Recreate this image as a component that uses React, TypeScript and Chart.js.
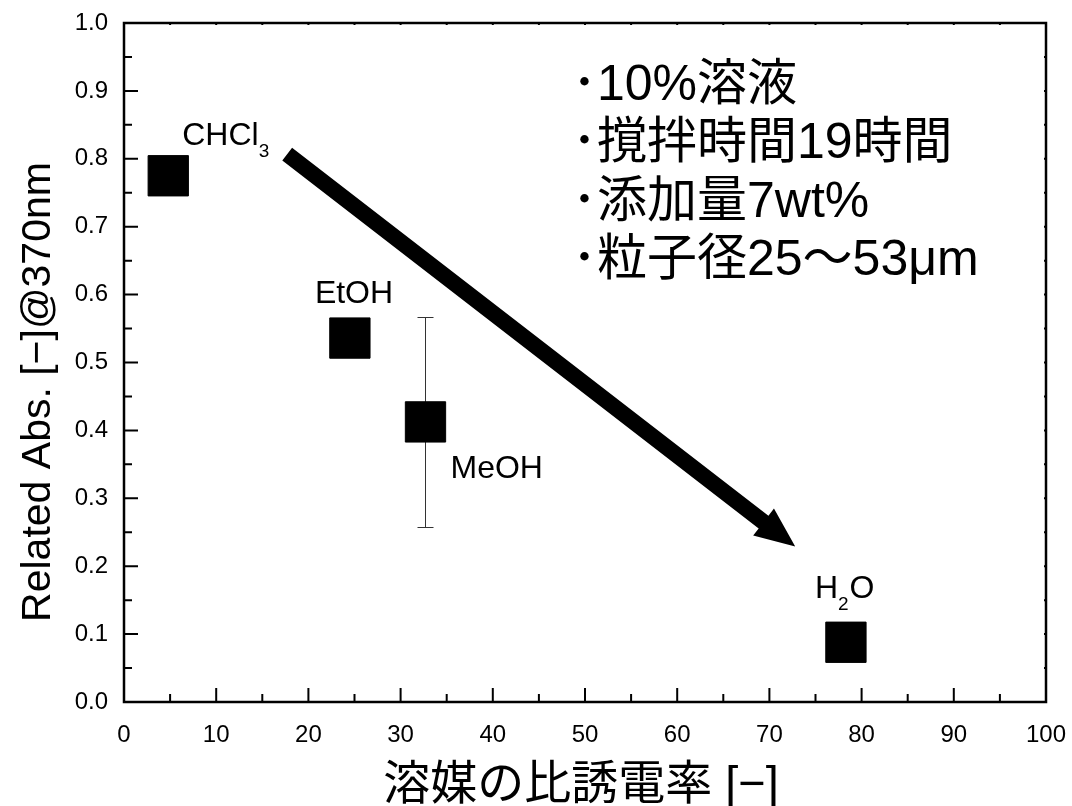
import React, { useEffect, useRef } from "react";
import { Chart, registerables } from "chart.js";

Chart.register(...registerables);

// ---- data ----
const solventNames = ["CHCl3", "EtOH", "MeOH", "H2O"];
const dielectricConstants = [4.8, 24.5, 32.7, 78.3];
const relatedAbs = [0.775, 0.536, 0.4125, 0.088];
const absError = [0, 0, 0.155, 0];
const xTickLabels = ["0", "10", "20", "30", "40", "50", "60", "70", "80", "90", "100"];
const yTickLabels = ["0.0", "0.1", "0.2", "0.3", "0.4", "0.5", "0.6", "0.7", "0.8", "0.9", "1.0"];
const arrowStart = [17.7, 0.807];
const arrowEnd = [72.8, 0.229];
const conditionNotes = ["･10%溶液", "･撹拌時間19時間", "･添加量7wt%", "･粒子径25～53μm"];
const xTitle = "溶媒の比誘電率 [−]";
const yTitle = "Related Abs. [−]@370nm";

// label text split into [text, isSubscript]
const labelParts: [string, boolean][][] = [
  [["CHCl", false], ["3", true]],
  [["EtOH", false]],
  [["MeOH", false]],
  [["H", false], ["2", true], ["O", false]],
];

// ---- styling constants ----
const LATIN = '"Liberation Sans", Arial, sans-serif';
const MIXED = '"Liberation Sans", "Noto Sans CJK JP", sans-serif';
const labelOffsets = [
  [14, -31],
  [-35, -35],
  [25, 56.5],
  [-31, -44],
];

const decorPlugin = {
  id: "decor",
  beforeDatasetsDraw(chart: any) {
    const { ctx, scales } = chart;
    const x = scales.x;
    const y = scales.y;
    ctx.save();
    ctx.strokeStyle = "#333";
    ctx.lineWidth = 1;
    dielectricConstants.forEach((v, i) => {
      const e = absError[i];
      if (!e) return;
      const px = Math.round(x.getPixelForValue(v)) + 0.5;
      const top = Math.round(y.getPixelForValue(relatedAbs[i] + e)) + 0.5;
      const bot = Math.round(y.getPixelForValue(relatedAbs[i] - e)) + 0.5;
      ctx.beginPath();
      ctx.moveTo(px, top);
      ctx.lineTo(px, bot);
      ctx.moveTo(px - 8, top);
      ctx.lineTo(px + 8, top);
      ctx.moveTo(px - 8, bot);
      ctx.lineTo(px + 8, bot);
      ctx.stroke();
    });
    ctx.restore();
  },
  afterDraw(chart: any) {
    const { ctx, chartArea, scales } = chart;
    const x = scales.x;
    const y = scales.y;
    const { left, right, top, bottom } = chartArea;
    ctx.save();
    ctx.strokeStyle = "#000";
    ctx.fillStyle = "#000";

    // ticks
    ctx.lineWidth = 2;
    ctx.beginPath();
    for (let v = 0; v <= 100; v += 5) {
      const px = x.getPixelForValue(v);
      const major = v % 10 === 0;
      ctx.moveTo(px, bottom);
      ctx.lineTo(px, bottom - (major ? 14 : 8));
      ctx.moveTo(px, top);
      ctx.lineTo(px, top + 2);
    }
    for (let k = 0; k <= 20; k++) {
      const v = k * 0.05;
      const py = y.getPixelForValue(v);
      const major = k % 2 === 0;
      ctx.moveTo(left, py);
      ctx.lineTo(left + (major ? 14 : 8), py);
      ctx.moveTo(right, py);
      ctx.lineTo(right - 2, py);
    }
    ctx.stroke();

    // frame
    ctx.lineWidth = 2.5;
    ctx.strokeRect(left, top, right - left, bottom - top);

    // arrow
    const sx = x.getPixelForValue(arrowStart[0]);
    const sy = y.getPixelForValue(arrowStart[1]);
    const ex = x.getPixelForValue(arrowEnd[0]);
    const ey = y.getPixelForValue(arrowEnd[1]);
    const len = Math.hypot(ex - sx, ey - sy);
    const ux = (ex - sx) / len;
    const uy = (ey - sy) / len;
    const nx = -uy;
    const ny = ux;
    const shaftW = 16;
    const headL = 40;
    const headW = 34;
    const bx = ex - ux * headL;
    const by = ey - uy * headL;
    ctx.beginPath();
    ctx.moveTo(sx + (nx * shaftW) / 2, sy + (ny * shaftW) / 2);
    ctx.lineTo(bx + (nx * shaftW) / 2, by + (ny * shaftW) / 2);
    ctx.lineTo(bx + (nx * headW) / 2, by + (ny * headW) / 2);
    ctx.lineTo(ex, ey);
    ctx.lineTo(bx - (nx * headW) / 2, by - (ny * headW) / 2);
    ctx.lineTo(bx - (nx * shaftW) / 2, by - (ny * shaftW) / 2);
    ctx.lineTo(sx - (nx * shaftW) / 2, sy - (ny * shaftW) / 2);
    ctx.closePath();
    ctx.fill();

    // point labels
    ctx.textBaseline = "alphabetic";
    ctx.textAlign = "left";
    labelParts.forEach((parts, i) => {
      let cx = x.getPixelForValue(dielectricConstants[i]) + labelOffsets[i][0];
      const base = y.getPixelForValue(relatedAbs[i]) + labelOffsets[i][1];
      parts.forEach(([t, sub]) => {
        ctx.font = sub ? `19px ${LATIN}` : `32px ${LATIN}`;
        ctx.fillText(t, cx, sub ? base + 12 : base);
        cx += ctx.measureText(t).width + (sub ? 1 : 0);
      });
    });

    // condition notes
    ctx.font = `50px ${MIXED}`;
    ctx.textBaseline = "middle";
    conditionNotes.forEach((t, i) => {
      ctx.fillText(t, 572, 86 + i * 58.5);
    });

    // axis titles
    ctx.textAlign = "center";
    ctx.font = `47px ${MIXED}`;
    ctx.fillText(xTitle, (left + right) / 2 - 4, 786);

    ctx.save();
    ctx.font = `41px ${LATIN}`;
    ctx.textBaseline = "alphabetic";
    ctx.translate(50, 392);
    ctx.rotate(-Math.PI / 2);
    ctx.fillText(yTitle, 0, 0);
    ctx.restore();

    ctx.restore();
  },
};

export default function App() {
  const canvasRef = useRef<HTMLCanvasElement | null>(null);

  useEffect(() => {
    const canvas = canvasRef.current;
    if (!canvas) return;
    const chart = new Chart(canvas, {
      type: "scatter",
      data: {
        datasets: [
          {
            label: "Related Abs.",
            data: dielectricConstants.map((v, i) => ({ x: v, y: relatedAbs[i], name: solventNames[i] })),
            pointStyle: "rect",
            pointRadius: 28.5,
            pointHoverRadius: 28.5,
            backgroundColor: "#000",
            borderColor: "#000",
            borderWidth: 1,
            borderJoinStyle: "round",
          } as any,
        ],
      },
      options: {
        animation: false,
        responsive: false,
        events: [],
        layout: { autoPadding: false, padding: { top: 23, right: 26, left: 0, bottom: 0 } },
        plugins: {
          legend: { display: false },
          tooltip: { enabled: false },
        },
        scales: {
          x: {
            type: "linear",
            min: 0,
            max: 100,
            grid: { display: false, drawTicks: false },
            border: { display: false },
            ticks: {
              stepSize: 10,
              padding: 19,
              color: "#000",
              font: { family: LATIN, size: 24 },
              callback: (v: any) => xTickLabels[Math.round(Number(v) / 10)] ?? "",
            },
            afterFit: (s: any) => {
              s.height = 104;
              s.paddingLeft = 0;
              s.paddingRight = 0;
            },
          },
          y: {
            type: "linear",
            min: 0,
            max: 1,
            grid: { display: false, drawTicks: false },
            border: { display: false },
            ticks: {
              stepSize: 0.1,
              padding: 16,
              color: "#000",
              font: { family: LATIN, size: 24 },
              callback: (v: any) => yTickLabels[Math.round(Number(v) * 10)] ?? "",
            },
            afterFit: (s: any) => {
              s.width = 124;
              s.paddingTop = 0;
              s.paddingBottom = 0;
            },
          },
        },
      },
      plugins: [decorPlugin],
    });
    return () => chart.destroy();
  }, []);

  return (
    <div style={{ position: "fixed", left: 0, top: 0, width: 1072, height: 806, background: "#fff" }}>
      <canvas ref={canvasRef} width={1072} height={806} style={{ width: 1072, height: 806 }} />
    </div>
  );
}
